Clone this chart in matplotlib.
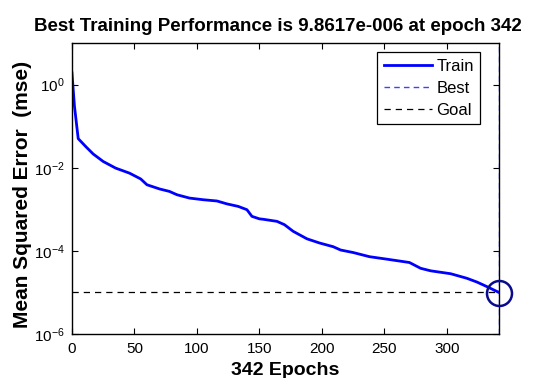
import matplotlib
matplotlib.use("Agg")
import matplotlib.pyplot as plt
import numpy as np

plt.rcParams['font.family'] = ['Liberation Sans', 'DejaVu Sans']
plt.rcParams['mathtext.fontset'] = 'custom'
plt.rcParams['mathtext.rm'] = 'Liberation Sans'
plt.rcParams['mathtext.it'] = 'Liberation Sans:italic'
plt.rcParams['mathtext.bf'] = 'Liberation Sans:bold'

# Training curve (epoch, log10 mse)
epochs = [0, 2, 5, 11, 17, 25, 35, 46, 55, 60, 70, 78, 84, 94, 105, 116, 124, 133,
          140, 144, 150, 153, 164, 170, 177, 188, 198, 209, 215, 225, 238, 252,
          270, 279, 287, 303, 316, 324, 332, 342]
log_mse = [0.28, -0.52, -1.30, -1.49, -1.67, -1.85, -2.01, -2.13, -2.27, -2.41,
           -2.51, -2.57, -2.65, -2.73, -2.77, -2.80, -2.87, -2.93, -3.01, -3.17,
           -3.23, -3.24, -3.29, -3.37, -3.53, -3.71, -3.81, -3.90, -3.98, -4.04,
           -4.14, -4.20, -4.28, -4.42, -4.48, -4.55, -4.66, -4.75, -4.86, -5.006]
mse = [10 ** v for v in log_mse]

best_epoch = 342
best_perf = 9.8617e-6
goal = 1e-5
n_epochs = 342

fig = plt.figure(figsize=(5.37, 3.78), dpi=100)
ax = fig.add_axes([0.134, 0.1164, 0.796, 0.7698])

ax.semilogy(epochs, mse, color='#0000ff', lw=2, label='Train')
ax.axvline(best_epoch, color='#4040ff', lw=1, ls=(0, (4, 3)), label='Best')
ax.axhline(goal, color='black', lw=0.9, ls=(0, (5, 4)), label='Goal')
ax.plot([best_epoch], [best_perf], 'o', ms=18, mfc='none', mec='#0a0a8c', mew=1.8,
        clip_on=False, zorder=5)

ax.set_xlim(0, n_epochs)
ax.set_ylim(1e-6, 1e1)
ax.set_xticks([0, 50, 100, 150, 200, 250, 300])
ax.set_yticks([1e0, 1e-2, 1e-4, 1e-6])
ax.yaxis.set_minor_locator(matplotlib.ticker.NullLocator())
ax.tick_params(direction='in', top=True, right=True, labelsize=11, length=4, width=0.8)
ax.tick_params(axis='x', pad=6)
ax.tick_params(axis='y', pad=5)
for s in ax.spines.values():
    s.set_linewidth(1.0)

ax.set_title('Best Training Performance is 9.8617e-006 at epoch 342',
             fontsize=13.5, fontweight='bold', pad=9, x=0.482)
ax.set_xlabel('342 Epochs', fontsize=14, fontweight='bold', labelpad=4)
ax.set_ylabel('Mean Squared Error  (mse)', fontsize=15, fontweight='bold')
ax.yaxis.set_label_coords(-0.094, 0.48)

leg = ax.legend(loc='upper right', bbox_to_anchor=(0.9555, 0.969), fontsize=12,
                frameon=True, fancybox=False, edgecolor='black', framealpha=1,
                handlelength=2.9, borderaxespad=0, labelspacing=0.42,
                handletextpad=0.25, borderpad=0.4)
leg.get_frame().set_linewidth(0.9)

fig.savefig('out.png', dpi=100)
